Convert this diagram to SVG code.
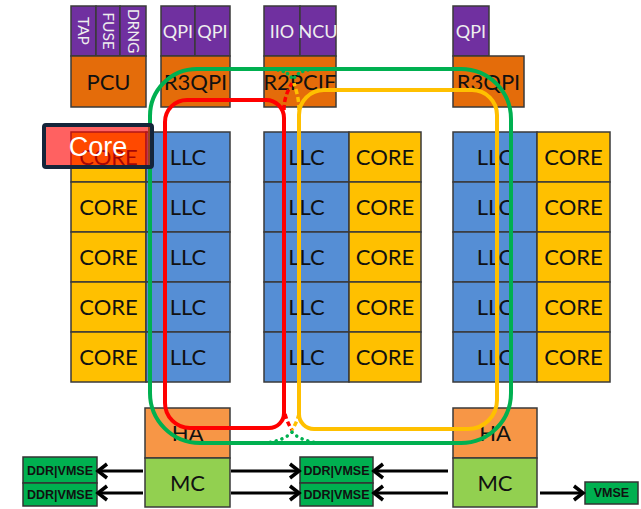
<svg xmlns="http://www.w3.org/2000/svg" width="641" height="509" viewBox="0 0 641 509">
<style>
.bx{stroke:#3a3a3a;stroke-width:1.5}
.pur{fill:#7030a0}
.org{fill:#e46c0a}
.llc{fill:#558ed5}
.core{fill:#ffc000}
.ha{fill:#f79646}
.mc{fill:#92d050}
.ddr{fill:#00b050;stroke:#333;stroke-width:1.5}
.t{font-family:Lato,"Liberation Sans",sans-serif;font-size:22px;fill:#111;text-anchor:middle}
.tw{font-family:Lato,"Liberation Sans",sans-serif;font-size:18px;fill:#eee;text-anchor:middle}
.tv{font-family:Lato,"Liberation Sans",sans-serif;font-size:15.5px;fill:#eee;text-anchor:middle}
.td{font-family:"Liberation Sans",Arial,sans-serif;font-size:12.5px;font-weight:bold;fill:#111;text-anchor:middle}
.ring{fill:none;stroke-width:4}
.arr{stroke:#000;stroke-width:3;fill:none;marker-end:url(#ah)}
</style>
<defs>
<marker id="ah" markerUnits="userSpaceOnUse" markerWidth="16" markerHeight="18" refX="12" refY="9" orient="auto">
<path d="M3,2 L12,9 L3,16" fill="none" stroke="#000" stroke-width="3.5"/>
</marker>
</defs>
<rect width="641" height="509" fill="#fff"/>

<g id="pcu">
<rect class="bx pur" x="71" y="6" width="25" height="50"/>
<rect class="bx pur" x="96" y="6" width="24" height="50"/>
<rect class="bx pur" x="120" y="6" width="26" height="50"/>
<text class="tv" transform="translate(78,31) rotate(90)">TAP</text>
<text class="tv" transform="translate(102.5,31) rotate(90)">FUSE</text>
<text class="tv" transform="translate(127.5,31) rotate(90)">DRNG</text>
<rect class="bx org" x="71" y="56" width="75" height="51"/>
<text class="t" x="108.5" y="90">PCU</text>
</g>
<g id="r3qpi-left">
<rect class="bx pur" x="161" y="6" width="34" height="50"/>
<rect class="bx pur" x="195" y="6" width="35" height="50"/>
<text class="tw" x="178" y="38">QPI</text>
<text class="tw" x="212.5" y="38">QPI</text>
<rect class="bx org" x="161" y="56" width="69" height="51"/>
<text class="t" x="195.5" y="90">R3QPI</text>
</g>
<g id="r2pcie">
<rect class="bx pur" x="264" y="6" width="36" height="50"/>
<rect class="bx pur" x="300" y="6" width="36" height="50"/>
<text class="tw" x="282" y="38">IIO</text>
<text class="tw" x="318" y="38">NCU</text>
<rect class="bx org" x="264" y="56" width="72" height="51"/>
<text class="t" x="300" y="90">R2PCIE</text>
</g>
<g id="r3qpi-right">
<rect class="bx pur" x="453" y="6" width="36" height="50"/>
<text class="tw" x="471" y="38">QPI</text>
<rect class="bx org" x="453" y="56" width="71" height="51"/>
<text class="t" x="488.5" y="90">R3QPI</text>
</g>

<g id="col-left">
<rect class="bx core" x="71" y="132" width="75" height="50"/><text class="t" x="108.5" y="165">CORE</text>
<rect class="bx core" x="71" y="182" width="75" height="50"/><text class="t" x="108.5" y="215">CORE</text>
<rect class="bx core" x="71" y="232" width="75" height="50"/><text class="t" x="108.5" y="265">CORE</text>
<rect class="bx core" x="71" y="282" width="75" height="50"/><text class="t" x="108.5" y="315">CORE</text>
<rect class="bx core" x="71" y="332" width="75" height="50"/><text class="t" x="108.5" y="365">CORE</text>
<rect class="bx llc" x="146" y="132" width="84" height="50"/><text class="t" x="188" y="165">LLC</text>
<rect class="bx llc" x="146" y="182" width="84" height="50"/><text class="t" x="188" y="215">LLC</text>
<rect class="bx llc" x="146" y="232" width="84" height="50"/><text class="t" x="188" y="265">LLC</text>
<rect class="bx llc" x="146" y="282" width="84" height="50"/><text class="t" x="188" y="315">LLC</text>
<rect class="bx llc" x="146" y="332" width="84" height="50"/><text class="t" x="188" y="365">LLC</text>
</g>
<g id="col-mid">
<rect class="bx llc" x="264" y="132" width="85" height="50"/><text class="t" x="306.5" y="165">LLC</text>
<rect class="bx llc" x="264" y="182" width="85" height="50"/><text class="t" x="306.5" y="215">LLC</text>
<rect class="bx llc" x="264" y="232" width="85" height="50"/><text class="t" x="306.5" y="265">LLC</text>
<rect class="bx llc" x="264" y="282" width="85" height="50"/><text class="t" x="306.5" y="315">LLC</text>
<rect class="bx llc" x="264" y="332" width="85" height="50"/><text class="t" x="306.5" y="365">LLC</text>
<rect class="bx core" x="349" y="132" width="72" height="50"/><text class="t" x="385" y="165">CORE</text>
<rect class="bx core" x="349" y="182" width="72" height="50"/><text class="t" x="385" y="215">CORE</text>
<rect class="bx core" x="349" y="232" width="72" height="50"/><text class="t" x="385" y="265">CORE</text>
<rect class="bx core" x="349" y="282" width="72" height="50"/><text class="t" x="385" y="315">CORE</text>
<rect class="bx core" x="349" y="332" width="72" height="50"/><text class="t" x="385" y="365">CORE</text>
</g>
<g id="col-right">
<rect class="bx llc" x="453" y="132" width="84" height="50"/><text class="t" x="495" y="165">LLC</text>
<rect class="bx llc" x="453" y="182" width="84" height="50"/><text class="t" x="495" y="215">LLC</text>
<rect class="bx llc" x="453" y="232" width="84" height="50"/><text class="t" x="495" y="265">LLC</text>
<rect class="bx llc" x="453" y="282" width="84" height="50"/><text class="t" x="495" y="315">LLC</text>
<rect class="bx llc" x="453" y="332" width="84" height="50"/><text class="t" x="495" y="365">LLC</text>
<rect class="bx core" x="537" y="132" width="73" height="50"/><text class="t" x="573.5" y="165">CORE</text>
<rect class="bx core" x="537" y="182" width="73" height="50"/><text class="t" x="573.5" y="215">CORE</text>
<rect class="bx core" x="537" y="232" width="73" height="50"/><text class="t" x="573.5" y="265">CORE</text>
<rect class="bx core" x="537" y="282" width="73" height="50"/><text class="t" x="573.5" y="315">CORE</text>
<rect class="bx core" x="537" y="332" width="73" height="50"/><text class="t" x="573.5" y="365">CORE</text>
</g>

<g id="ha-mc-left">
<rect class="bx ha" x="145" y="408" width="85" height="50"/><text class="t" x="187.5" y="441">HA</text>
<rect class="bx mc" x="145" y="458" width="85" height="49"/><text class="t" x="187.5" y="491">MC</text>
</g>
<g id="ha-mc-right">
<rect class="bx ha" x="453" y="408" width="84" height="50"/><text class="t" x="495" y="441">HA</text>
<rect class="bx mc" x="453" y="458" width="84" height="49"/><text class="t" x="495" y="491">MC</text>
</g>
<g id="ddr-left">
<rect class="ddr" x="23" y="457" width="74" height="26"/><text class="td" x="60" y="475">DDR|VMSE</text>
<rect class="ddr" x="23" y="483" width="74" height="23"/><text class="td" x="60" y="499">DDR|VMSE</text>
</g>
<g id="ddr-mid">
<rect class="ddr" x="300" y="457" width="73" height="26"/><text class="td" x="336.5" y="475">DDR|VMSE</text>
<rect class="ddr" x="300" y="483" width="73" height="23"/><text class="td" x="336.5" y="499">DDR|VMSE</text>
</g>
<g id="vmse">
<rect class="ddr" x="585" y="482" width="53" height="22"/><text class="td" x="611.5" y="497">VMSE</text>
</g>

<g id="connectors">
<path class="ring" stroke="#00b050" d="M150,116 A47,47 0 0 1 197,69 L461,69 A50,50 0 0 1 511,119 L511,393 A50,50 0 0 1 461,443 L200,443 A50,50 0 0 1 150,393 Z"/>
<path class="ring" stroke="#ff0000" d="M165,122 A22,22 0 0 1 187,100 L266,100 A18,18 0 0 1 284,118 L284,413 A15,15 0 0 1 269,428 L190,428 A25,25 0 0 1 165,403 Z"/>
<path class="ring" stroke="#ffc000" d="M299,115 A25,25 0 0 1 324,90 L472,90 A25,25 0 0 1 497,115 L497,400 A29,29 0 0 1 468,429 L314,429 A15,15 0 0 1 299,414 Z"/>
<path fill="none" stroke="#ff0000" stroke-width="3.5" stroke-dasharray="5,3" d="M284,110 C284,98 288,90 292,83"/>
<path fill="none" stroke="#ffc000" stroke-width="3.5" stroke-dasharray="5,3" d="M299,110 C299,98 296,90 294,83"/>
<path fill="none" stroke="#00b050" stroke-width="3.5" stroke-dasharray="0.1,5" stroke-linecap="round" d="M278,70 Q289,72 293,80 M308,70 Q297,72 293,80"/>
<path fill="none" stroke="#ff0000" stroke-width="3.5" stroke-dasharray="5,3" d="M285,414 Q287,422 292,430"/>
<path fill="none" stroke="#ffc000" stroke-width="3.5" stroke-dasharray="5,3" d="M299,414 Q297,422 292,430"/>
<path fill="none" stroke="#00b050" stroke-width="3.5" stroke-dasharray="0.1,6" stroke-linecap="round" d="M264,443 Q284,441 292,432 M320,443 Q300,441 292,432"/>
<line class="arr" x1="143" y1="471" x2="98" y2="471"/>
<line class="arr" x1="143" y1="493" x2="98" y2="493"/>
<line class="arr" x1="231" y1="471" x2="299" y2="471"/>
<line class="arr" x1="231" y1="493" x2="299" y2="493"/>
<line class="arr" x1="448" y1="471" x2="374" y2="471"/>
<line class="arr" x1="448" y1="493" x2="374" y2="493"/>
<line class="arr" x1="540" y1="493" x2="583" y2="493"/>
</g>

<g id="core-label">
<rect x="44" y="125" width="108" height="42" rx="2" fill="#ff0000" fill-opacity="0.62" stroke="#14253a" stroke-width="4"/>
<text x="98" y="156" font-family="'Liberation Sans',Arial,sans-serif" font-size="27" fill="#fff" text-anchor="middle">Core</text>
</g>
</svg>
